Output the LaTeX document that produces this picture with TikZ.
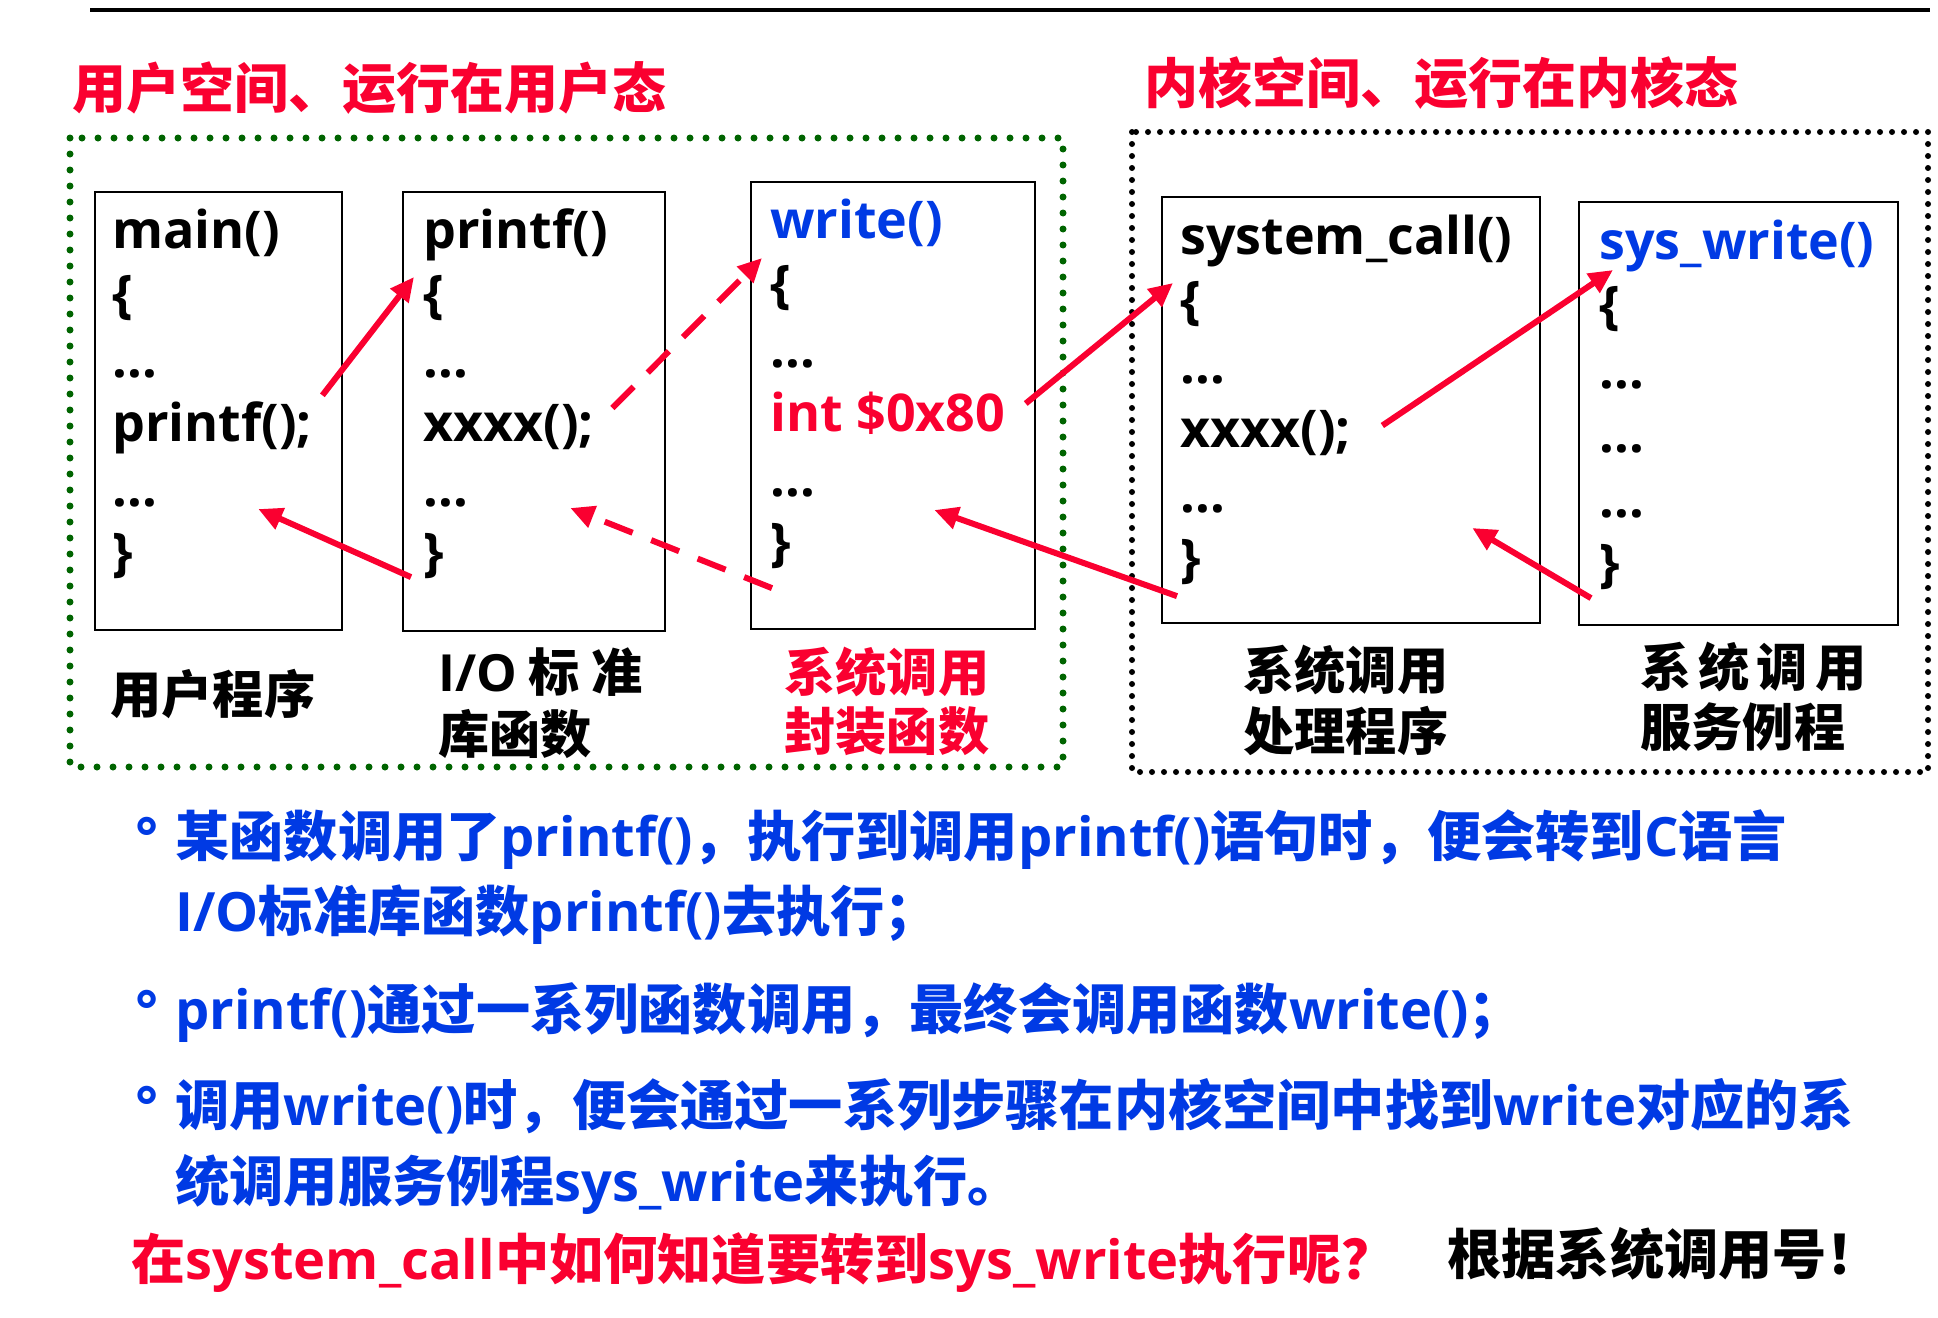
\documentclass[tikz,border=0pt]{standalone}
\usepackage{fontspec}
\setmainfont{Open Sans}
\newfontfamily\cjk{Noto Sans CJK SC}
\usetikzlibrary{arrows.meta,fit}
\definecolor{slidered}{RGB}{250,0,48}
\definecolor{slideblue}{RGB}{0,58,228}
\definecolor{slidegreen}{RGB}{0,100,0}
\newcommand{\zh}[1]{{\cjk #1}}
\newcommand{\dotrow}{...}
\newcommand{\gap}{\hspace{3.5pt}}
\tikzset{
  codebox/.style={draw=black, line width=1.2pt, inner sep=0pt},
  codeline/.style={anchor=base west, inner sep=0pt, font=\fontsize{26}{31}\selectfont\bfseries},
  boxlabel/.style={anchor=base west, inner sep=0pt, font=\fontsize{25.6}{30}\selectfont\bfseries\cjk},
  zonetitle/.style={anchor=base west, inner sep=0pt, text=slidered,
                    font=\fontsize{27}{32}\selectfont\bfseries\cjk},
  noteline/.style={anchor=base west, inner sep=0pt, text=slideblue,
                   font=\fontsize{27.1}{32}\selectfont\bfseries},
  userzone/.style={slidegreen, line width=3.5pt, line cap=round, dash pattern=on 0pt off 8pt},
  kernelzone/.style={black, line width=3pt, line cap=round, dash pattern=on 0pt off 6pt},
  callarrow/.style={-{Triangle[length=12pt,width=11pt]}, line width=3pt, slidered},
  calldash/.style={callarrow, dash pattern=on 15pt off 10pt},
}

\begin{document}
\begin{tikzpicture}[x=0.5pt, y=-0.5pt]
  \useasboundingbox (0,0) rectangle (1938,1317);
  \draw[line width=2.4pt] (90,10) -- (1930,10);

  % the two spaces
  \node[zonetitle] (userTitle) at (72,108) {用户空间、运行在用户态};
  \node[zonetitle] (kernTitle) at (1144,103) {内核空间、运行在内核态};
  \draw[userzone] (70,138) rectangle (1063,767);
  \draw[kernelzone] (1132,132) rectangle (1928,772);

  % code boxes
  \node[codebox, fit={(95,192) (342,630)}] (mainBox) {};
  \node[codebox, fit={(403,192) (665,631)}] (pfBox) {};
  \node[codebox, fit={(751,182) (1035,629)}] (wrBox) {};
  \node[codebox, fit={(1162,197) (1540,623)}] (scBox) {};
  \node[codebox, fit={(1579,202) (1898,625)}] (swBox) {};

  \foreach \txt [count=\i from 0] in {main(), \{, \dotrow, printf();, \dotrow, \}} {
    \pgfmathsetmacro{\yy}{248+64.5*\i}
    \node[codeline] (main\i) at (112,\yy) {\txt};
  }
  \foreach \txt [count=\i from 0] in {printf(), \{, \dotrow, xxxx();, \dotrow, \}} {
    \pgfmathsetmacro{\yy}{248+64.5*\i}
    \node[codeline] (pf\i) at (423,\yy) {\txt};
  }
  \foreach \txt [count=\i from 0] in {\textcolor{slideblue}{write()}, \{, \dotrow,
                                      \textcolor{slidered}{int \$0x80}, \dotrow, \}} {
    \pgfmathsetmacro{\yy}{238+64.5*\i}
    \node[codeline] (wr\i) at (770,\yy) {\txt};
  }
  \foreach \txt [count=\i from 0] in {system\_call(), \{, \dotrow, xxxx();, \dotrow, \}} {
    \pgfmathsetmacro{\yy}{254+64.5*\i}
    \node[codeline] (sc\i) at (1180,\yy) {\txt};
  }
  \foreach \txt [count=\i from 0] in {\textcolor{slideblue}{sys\_write()}, \{, \dotrow, \dotrow, \dotrow, \}} {
    \pgfmathsetmacro{\yy}{259+64.5*\i}
    \node[codeline] (sw\i) at (1599,\yy) {\txt};
  }

  % box captions
  \node[boxlabel] (mainCap) at (110,713) {用户程序};
  \node[boxlabel] (libCapA) at (438,691) {\textrm{I/O} 标 准};
  \node[boxlabel] (libCapB) at (438,753) {库函数};
  \node[boxlabel, text=slidered] (wrapCapA) at (784,691) {系统调用};
  \node[boxlabel, text=slidered] (wrapCapB) at (784,750) {封装函数};
  \node[boxlabel] (handCapA) at (1243,689) {系统调用};
  \node[boxlabel] (handCapB) at (1243,750) {处理程序};
  \node[boxlabel] (servCapA) at (1640,686) {系\gap 统\gap 调\gap 用};
  \node[boxlabel] (servCapB) at (1640,746) {服务例程};

  % calls and returns
  \draw[callarrow] ([shift={(10,-6)}]main3.north east) -- ([shift={(-9,2)}]pf1.north west);
  \draw[callarrow] ([shift={(-12,-2)}]pf5.south west) -- ([shift={(101,3)}]main4.base east);
  \draw[calldash] ([shift={(18,4)}]pf3.north east) -- ([shift={(-8,-7)}]wr1.north west);
  \draw[calldash] ([shift={(2,19)}]wr5.south west) -- ([shift={(102,2)}]pf4.base east);
  \draw[callarrow] ([shift={(20,-28)}]wr3.base east) -- ([shift={(-7,2)}]sc1.north west);
  \draw[callarrow] ([shift={(-3,11)}]sc5.south west) -- ([shift={(119,14)}]wr4.base east);
  \draw[callarrow] ([shift={(31,-22)}]sc3.base east) -- ([shift={(14,-16)}]sw1.north west);
  \draw[callarrow] ([shift={(-8,8)}]sw5.south west) -- ([shift={(247,16)}]sc4.base east);

  % notes
  \node[noteline] (bulA) at (135,856) {°};
  \node[noteline] (noteA1) at (175,856)
    {\zh{某函数调用了}printf()\zh{，执行到调用}printf()\zh{语句时，便会转到}C\zh{语言}};
  \node[noteline] (noteA2) at (175,931) {I/O\zh{标准库函数}printf()\zh{去执行；}};
  \node[noteline] (bulB) at (135,1029) {°};
  \node[noteline] (noteB) at (175,1029) {printf()\zh{通过一系列函数调用，最终会调用函数}write()\zh{；}};
  \node[noteline] (bulC) at (135,1125) {°};
  \node[noteline] (noteC1) at (175,1125)
    {\zh{调用}write()\zh{时，便会通过一系列步骤在内核空间中找到}write\zh{对应的系}};
  \node[noteline] (noteC2) at (175,1201) {\zh{统调用服务例程}sys\_write\zh{来执行。}};
  \node[noteline, text=slidered] (askLine) at (131,1279)
    {\zh{在}system\_call\zh{中如何知道要转到}sys\_write\zh{执行呢？}};
  \node[noteline, text=black] (answerLine) at (1447,1274) {\zh{根据系统调用号！}};
\end{tikzpicture}
\end{document}
